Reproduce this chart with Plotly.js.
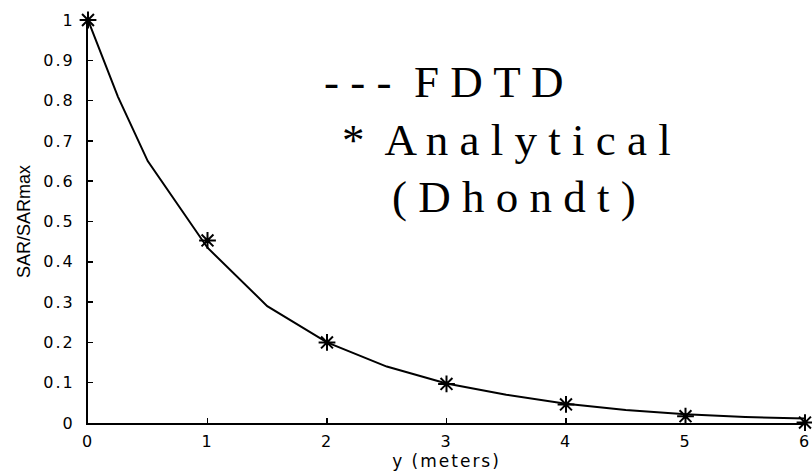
<!DOCTYPE html>
<html>
<head>
<meta charset="utf-8">
<script src="https://cdn.plot.ly/plotly-3.0.1.min.js"></script>
<style>
  html, body { margin: 0; padding: 0; background: #fff; }
  #chart { width: 812px; height: 473px; }
  .xtick text, .ytick text { letter-spacing: 2px; }
  .g-xtitle text { letter-spacing: 2px; }
</style>
</head>
<body>
<div id="chart"></div>
<script>
// FDTD curve
const fdtdX = [0, 0.25, 0.5, 1.0, 1.5, 2.0, 2.5, 3.0, 3.5, 4.0, 4.5, 5.0, 5.5, 6.0];
const fdtdY = [1.0, 0.81, 0.65, 0.435, 0.29, 0.2, 0.14, 0.098, 0.07, 0.048, 0.032, 0.022, 0.015, 0.011];
// Analytical (Dhondt) points
const anaX = [0, 1, 2, 3, 4, 5, 6];
const anaY = [1.0, 0.453, 0.2, 0.097, 0.046, 0.017, 0.001];
// Tick labels
const yTickVals = [0, 0.1, 0.2, 0.3, 0.4, 0.5, 0.6, 0.7, 0.8, 0.9, 1];
const yTickText = ['0', '0.1', '0.2', '0.3', '0.4', '0.5', '0.6', '0.7', '0.8', '0.9', '1'];
const xTickVals = [0, 1, 2, 3, 4, 5, 6];
const xTickText = ['0', '1', '2', '3', '4', '5', '6'];
// Legend-like text lines
const legendLines = ['- - -  F D T D', '*  A n a l y t i c a l', '( D h o n d t )'];

const traces = [
  {
    x: fdtdX, y: fdtdY, type: 'scatter', mode: 'lines',
    line: {color: '#000', width: 2},
    name: 'FDTD', cliponaxis: false
  },
  {
    x: anaX, y: anaY, type: 'scatter', mode: 'markers',
    marker: {symbol: 'asterisk-open', size: 14, color: '#000', line: {color: '#000', width: 2}},
    name: 'Analytical (Dhondt)', cliponaxis: false
  }
];

const serif = {family: 'Liberation Serif, Times New Roman, serif', size: 45, color: '#000'};
const legendPos = [[0.326, 0.847], [0.351, 0.703], [0.421, 0.561]];
const annotations = legendLines.map((t, i) => ({
  text: t, xref: 'paper', yref: 'paper',
  x: legendPos[i][0], y: legendPos[i][1],
  xanchor: 'left', yanchor: 'middle', showarrow: false, font: serif
}));

const tickFont = {family: 'DejaVu Sans, sans-serif', size: 16, color: '#000'};

const layout = {
  width: 812, height: 473,
  margin: {l: 88, r: 7, t: 20, b: 50},
  paper_bgcolor: '#fff', plot_bgcolor: '#fff',
  showlegend: false,
  xaxis: {
    range: [0, 6], tickvals: xTickVals, ticktext: xTickText,
    ticks: 'inside', ticklen: 5, tickwidth: 1.5, tickcolor: '#000',
    showline: true, linecolor: '#000', linewidth: 2, mirror: false,
    showgrid: false, zeroline: false, tickfont: tickFont,
    ticklabelstandoff: 3,
    title: {text: 'y (meters)', font: {family: 'DejaVu Sans, sans-serif', size: 17, color: '#000'}, standoff: 2},
    automargin: false
  },
  yaxis: {
    range: [0, 1], tickvals: yTickVals, ticktext: yTickText,
    ticks: 'inside', ticklen: 5, tickwidth: 1.5, tickcolor: '#000',
    showline: true, linecolor: '#000', linewidth: 2, mirror: false,
    showgrid: false, zeroline: false, tickfont: tickFont,
    ticklabelstandoff: 8,
    title: {text: 'SAR/SARmax', font: {family: 'Liberation Sans, Arial, sans-serif', size: 18, color: '#000'}, standoff: 8},
    automargin: false
  },
  annotations: annotations
};

Plotly.newPlot('chart', traces, layout, {displayModeBar: false, staticPlot: true});
</script>
</body>
</html>
